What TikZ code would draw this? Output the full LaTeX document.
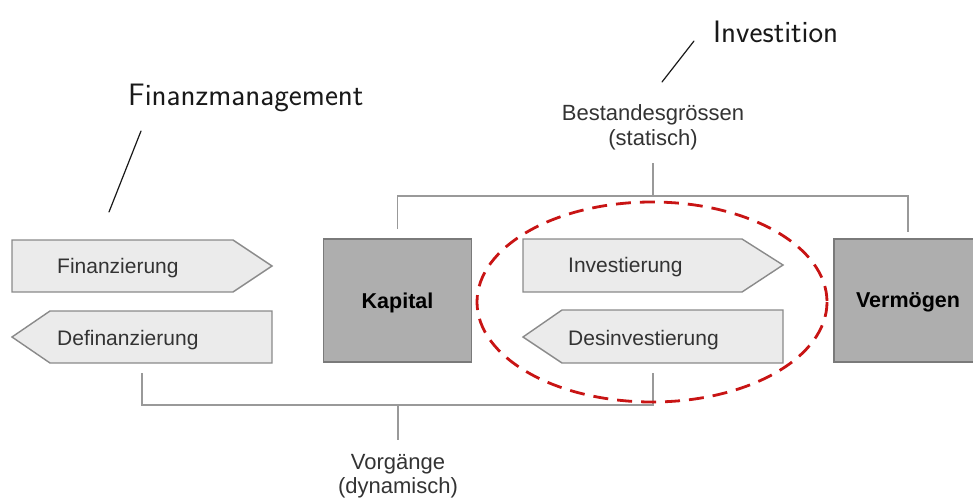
\documentclass[tikz,border=0pt]{standalone}
\usepackage{fontspec}
\setmainfont{Liberation Sans}
\definecolor{txtgray}{HTML}{333333}
\definecolor{flowfill}{HTML}{EBEBEB}
\definecolor{flowedge}{HTML}{8A8A8A}
\definecolor{stockfill}{HTML}{AEAEAE}
\definecolor{stockedge}{HTML}{7A7A7A}
\definecolor{conncol}{HTML}{999999}
\definecolor{markred}{HTML}{C81414}
\begin{document}
\begin{tikzpicture}[x=1pt,y=-1pt,
  flow/.style={draw=flowedge, fill=flowfill, line width=1.4pt, line join=miter},
  stock/.style={draw=stockedge, fill=stockfill, line width=1.4pt,
    minimum width=148pt, minimum height=123pt, inner sep=0pt},
  lbl/.style={anchor=base west, inner sep=0pt, text=txtgray,
    font=\fontsize{21}{24}\selectfont},
  boldlbl/.style={anchor=base, inner sep=0pt, text=black,
    font=\fontsize{21.5}{24}\selectfont\bfseries},
  grouplbl/.style={anchor=base, inner sep=0pt, text=txtgray,
    font=\fontsize{22}{26}\selectfont},
  conn/.style={draw=conncol, line width=1.3pt},
  hand/.style={anchor=base west, inner sep=0pt, text=black!90,
    font=\sffamily\fontsize{31}{33}\selectfont},
  handline/.style={draw=black!90, line width=1.2pt, line cap=round},
  ring/.style={draw=markred, line width=2.8pt, dash pattern=on 15pt off 9pt}
]
\useasboundingbox (0,0) rectangle (973,500);

% flows (arrow-shaped boxes)
\draw[flow] (12,240) -- (233,240) -- (272,266) -- (233,292) -- (12,292) -- cycle;
\draw[flow] (50,311) -- (272,311) -- (272,363) -- (50,363) -- (12,337) -- cycle;
\draw[flow] (523,239) -- (742,239) -- (783,265) -- (742,292) -- (523,292) -- cycle;
\draw[flow] (562,310) -- (783,310) -- (783,363) -- (562,363) -- (523,337) -- cycle;
\node[lbl] (fin)  at (57,273)  {Finanzierung};
\node[lbl] (defin) at (57,345) {Definanzierung};
\node[lbl] (inv)  at (568,272) {Investierung};
\node[lbl] (desinv) at (568,345) {Desinvestierung};

% stocks
\node[stock] (kap)  at (397.5,300.5) {};
\node[stock] (verm) at (908,300.5) {};
\node[boldlbl] (kaptxt)  at (kap.center |- 0,308)  {Kapital};
\node[boldlbl] (vermtxt) at (verm.center |- 0,307) {Vermögen};

% group labels
\node[grouplbl] (best1) at (653,121) {Bestandesgrössen};
\node[grouplbl] (best2) at (653,145) {(statisch)};
\node[grouplbl] (vorg1) at (398,469) {Vorgänge};
\node[grouplbl] (vorg2) at (398,493) {(dynamisch)};

% brackets
\coordinate (kaptop)  at (397.5,229);
\coordinate (vermtop) at (908,232);
\coordinate (bestbot) at (653,163);
\coordinate (bestjoin) at (653,196);
\draw[conn] (kaptop) |- (bestjoin) -| (vermtop);
\draw[conn] (bestjoin) -- (bestbot);

\coordinate (finbot)  at (142,373);
\coordinate (desbot)  at (653,373);
\coordinate (vorgjoin) at (398,405);
\coordinate (vorgtop) at (398,440);
\draw[conn] (finbot) |- (vorgjoin) -| (desbot);
\draw[conn] (vorgjoin) -- (vorgtop);

% highlight ring
\draw[ring] (652,302) ellipse [x radius=175, y radius=100];

% handwritten notes
\node[hand] (notefin) at (128,106) {Finanzmanagement};
\coordinate (notefinA) at (141,131);
\coordinate (notefinB) at (109,212);
\draw[handline] (notefinA) -- (notefinB);
\node[hand] (noteinv) at (713,43) {Investition};
\coordinate (noteinvA) at (694,41);
\coordinate (noteinvB) at (662,82);
\draw[handline] (noteinvA) -- (noteinvB);
\end{tikzpicture}
\end{document}
